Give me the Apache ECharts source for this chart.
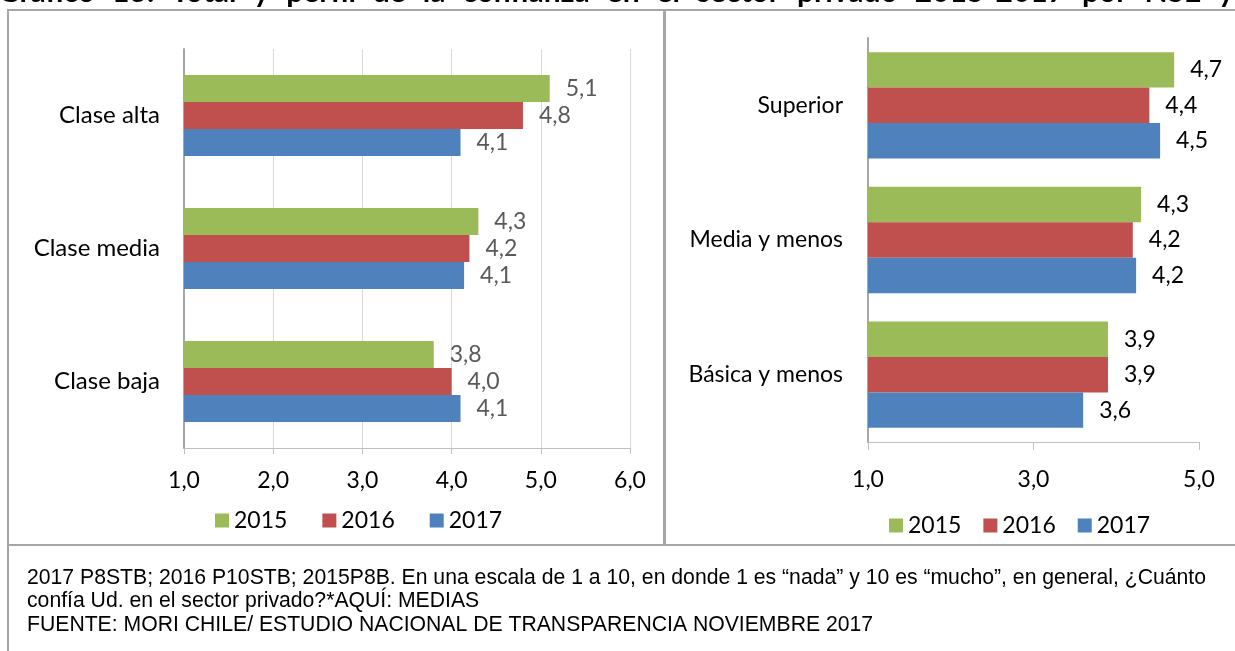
<!DOCTYPE html>
<html>
<head>
<meta charset="utf-8">
<script src="https://cdn.jsdelivr.net/npm/echarts@6/dist/echarts.min.js"></script>
<style>
  html, body { margin: 0; padding: 0; background: #fff; }
  #chart { width: 1235px; height: 651px; }
</style>
</head>
<body>
<div id="chart"></div>
<script>
// ---- data ----
var years = ['2015', '2016', '2017'];
var nseCats = ['Clase alta', 'Clase media', 'Clase baja'];
var nse2015 = [5.1, 4.3, 3.8];
var nse2016 = [4.8, 4.2, 4.0];
var nse2017 = [4.1, 4.14, 4.1];
var eduCats = ['Superior', 'Media y menos', 'Básica y menos'];
var edu2015 = [4.7, 4.3, 3.9];
var edu2016 = [4.4, 4.2, 3.9];
var edu2017 = [4.53, 4.24, 3.6];
var leftTicks = [1, 2, 3, 4, 5, 6];
var rightTicks = [1, 3, 5];

var titleWords = ['Gráfico', '13:', 'Total', 'y', 'perfil', 'de', 'la', 'confianza', 'en', 'el',
  'sector', 'privado', '2015-2017', 'por', 'NSE', 'y'];
var noteLines = [
  '2017 P8STB; 2016 P10STB; 2015P8B. En una escala de 1 a 10, en donde 1 es “nada” y 10 es “mucho”, en general, ¿Cuánto',
  'confía Ud. en el sector privado?*AQUÍ: MEDIAS',
  'FUENTE: MORI CHILE/ ESTUDIO NACIONAL DE TRANSPARENCIA NOVIEMBRE 2017'
];

var colors = ['#9BBB59', '#C0504D', '#4F81BD'];
var font = 'Lato, "Open Sans", sans-serif';

function fmt(v) { return Number(v).toFixed(1).replace('.', ','); }

// justified title words (only the lower part is visible, like the source)
var titleFont = 'bold 30px Lato, sans-serif';
var ctx = document.createElement('canvas').getContext('2d');
ctx.font = titleFont;
var widths = titleWords.map(function (w) { return ctx.measureText(w).width; });
var total = widths.reduce(function (a, b) { return a + b; }, 0);
var x0 = -2, x1 = 1234;
var gap = (x1 - x0 - total) / (titleWords.length - 1);
var titleEls = [];
var cx = x0;
titleWords.forEach(function (w, i) {
  titleEls.push({
    type: 'text', left: cx, top: -23, z: 1,
    style: { text: w, font: titleFont, fill: '#000' }
  });
  cx += widths[i] + gap;
});

var chart = echarts.init(document.getElementById('chart'));

function barSeries(name, data, xi, labelColor, idx) {
  return {
    name: name, type: 'bar', xAxisIndex: xi, yAxisIndex: xi,
    data: data, barGap: 0, barCategoryGap: xi === 0 ? '39%' : '21%',
    itemStyle: { color: colors[idx] },
    label: {
      show: true, position: 'right', distance: 16,
      formatter: function (p) { return fmt(p.value); },
      color: labelColor, fontFamily: font, fontSize: 23
    }
  };
}

var option = {
  animation: false,
  textStyle: { fontFamily: font },
  graphic: titleEls.concat([
    { type: 'rect', shape: { x: 8, y: 10, width: 656, height: 535 }, z: 0,
      style: { fill: '#fff', stroke: '#a6a6a6', lineWidth: 2 } },
    { type: 'rect', shape: { x: 665, y: 10, width: 580, height: 535 }, z: 0,
      style: { fill: '#fff', stroke: '#a6a6a6', lineWidth: 2 } },
    { type: 'rect', shape: { x: 8, y: 545, width: 1240, height: 120 }, z: 0,
      style: { fill: '#fff', stroke: '#a6a6a6', lineWidth: 2 } },
    { type: 'text', left: 27, top: 566, z: 2,
      style: { text: noteLines.join('\n'), font: '21.2px "Liberation Sans Narrow", "Liberation Sans", Arial, sans-serif',
        lineHeight: 23.5, fill: '#000' } }
  ]),
  legend: [
    { data: years, left: 210, top: 504, itemWidth: 14, itemHeight: 14, itemGap: 35,
      icon: 'rect', selectedMode: false, textStyle: { fontSize: 23, color: '#000', fontFamily: font } },
    { data: years, left: 884, top: 509, itemWidth: 14, itemHeight: 14, itemGap: 22,
      icon: 'rect', selectedMode: false, textStyle: { fontSize: 23, color: '#000', fontFamily: font } }
  ],
  grid: [
    { left: 184, right: 605, top: 49, bottom: 203 },
    { left: 868, right: 36, top: 38, bottom: 209 }
  ],
  xAxis: [
    { gridIndex: 0, type: 'value', min: leftTicks[0], max: leftTicks[leftTicks.length - 1], interval: 1,
      axisLine: { show: true, lineStyle: { color: '#bfbfbf', width: 1 } },
      axisTick: { show: true, length: 6, lineStyle: { color: '#bfbfbf' } },
      splitLine: { show: true, lineStyle: { color: '#d9d9d9' } },
      axisLabel: { formatter: fmt, color: '#000', fontSize: 23, margin: 21, fontFamily: font } },
    { gridIndex: 1, type: 'value', min: rightTicks[0], max: rightTicks[rightTicks.length - 1], interval: 2,
      axisLine: { show: true, lineStyle: { color: '#bfbfbf', width: 1 } },
      axisTick: { show: true, length: 8, lineStyle: { color: '#bfbfbf' } },
      splitLine: { show: false },
      axisLabel: { formatter: fmt, color: '#000', fontSize: 23, margin: 26, fontFamily: font } }
  ],
  yAxis: [
    { gridIndex: 0, type: 'category', data: nseCats, inverse: true,
      axisLine: { show: true, lineStyle: { color: '#a6a6a6', width: 2 } },
      axisTick: { show: false },
      axisLabel: { color: '#000', fontSize: 24, margin: 24, fontFamily: font } },
    { gridIndex: 1, type: 'category', data: eduCats, inverse: true,
      axisLine: { show: true, lineStyle: { color: '#a6a6a6', width: 2 } },
      axisTick: { show: false },
      axisLabel: { color: '#000', fontSize: 23, margin: 25, fontFamily: font } }
  ],
  series: [
    barSeries(years[0], nse2015, 0, '#595959', 0),
    barSeries(years[1], nse2016, 0, '#595959', 1),
    barSeries(years[2], nse2017, 0, '#595959', 2),
    barSeries(years[0], edu2015, 1, '#000', 0),
    barSeries(years[1], edu2016, 1, '#000', 1),
    barSeries(years[2], edu2017, 1, '#000', 2)
  ]
};

chart.setOption(option);
</script>
</body>
</html>
